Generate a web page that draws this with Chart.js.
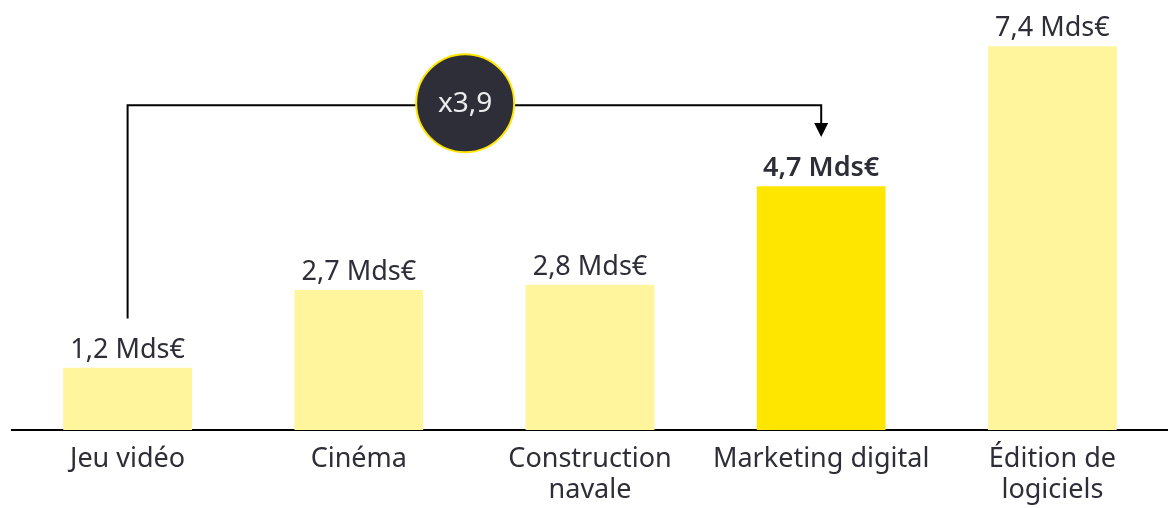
<!DOCTYPE html>
<html>
<head>
<meta charset="utf-8">
<script src="https://cdn.jsdelivr.net/npm/chart.js@4.4.1/dist/chart.umd.min.js"></script>
<style>
  html, body { margin: 0; padding: 0; background: #fff; }
  #wrap { width: 1168px; height: 508px; }
</style>
</head>
<body>
<div id="wrap"><canvas id="c"></canvas></div>
<script>
// données
const secteurs = [['Jeu vidéo'], ['Cinéma'], ['Construction', 'navale'], ['Marketing digital'], ['Édition de', 'logiciels']];
const valeurs = [1.2, 2.7, 2.8, 4.7, 7.4];
const etiquettes = ['1,2 Mds€', '2,7 Mds€', '2,8 Mds€', '4,7 Mds€', '7,4 Mds€'];
const miseEnAvant = 3; // Marketing digital
const multiplicateur = 'x3,9';

const JAUNE = '#ffe600';
const JAUNE_CLAIR = '#fff59c';
const TEXTE = '#2e2e38';
const POLICE = "'Noto Sans', sans-serif";

// étiquettes de valeur + flèche de comparaison
const annotations = {
    id: 'annotations',
    afterDatasetsDraw(chart) {
        const { ctx, scales: { x, y } } = chart;
        const barres = chart.getDatasetMeta(0).data;
        ctx.save();
        ctx.fillStyle = TEXTE;
        ctx.textAlign = 'center';
        ctx.textBaseline = 'alphabetic';
        barres.forEach((b, i) => {
            ctx.font = (i === miseEnAvant ? '600 ' : '400 ') + '27px ' + POLICE;
            ctx.fillText(etiquettes[i], b.x, b.y - 10);
        });

        // ligne de Jeu vidéo vers Marketing digital
        const x0 = x.getPixelForValue(0);
        const x1 = x.getPixelForValue(miseEnAvant);
        const yHaut = y.getPixelForValue(6.26);
        const yBas = y.getPixelForValue(2.15);
        const yPointe = y.getPixelForValue(5.65);
        ctx.strokeStyle = '#000';
        ctx.lineWidth = 2;
        ctx.beginPath();
        ctx.moveTo(x0, yBas);
        ctx.lineTo(x0, yHaut);
        ctx.lineTo(x1, yHaut);
        ctx.lineTo(x1, yPointe - 12);
        ctx.stroke();
        ctx.fillStyle = '#000';
        ctx.beginPath();
        ctx.moveTo(x1 - 7, yPointe - 14);
        ctx.lineTo(x1 + 7, yPointe - 14);
        ctx.lineTo(x1, yPointe);
        ctx.closePath();
        ctx.fill();

        // pastille x3,9
        const cx = x.getPixelForValue(1.46);
        const cy = yHaut - 2;
        ctx.beginPath();
        ctx.arc(cx, cy, 49, 0, Math.PI * 2);
        ctx.fillStyle = TEXTE;
        ctx.fill();
        ctx.lineWidth = 2;
        ctx.strokeStyle = JAUNE;
        ctx.stroke();
        ctx.fillStyle = '#ececef';
        ctx.font = '400 28px ' + POLICE;
        ctx.textBaseline = 'middle';
        ctx.fillText(multiplicateur, cx, cy + 1);
        ctx.restore();
    }
};

new Chart(document.getElementById('c'), {
    type: 'bar',
    data: {
        labels: secteurs,
        datasets: [{
            data: valeurs,
            backgroundColor: valeurs.map((v, i) => i === miseEnAvant ? JAUNE : JAUNE_CLAIR),
            categoryPercentage: 1,
            barPercentage: 0.557
        }]
    },
    options: {
        responsive: true,
        maintainAspectRatio: false,
        animation: false,
        layout: { padding: { left: 12, top: 15, right: 0, bottom: 0 } },
        plugins: {
            legend: { display: false },
            tooltip: { enabled: false }
        },
        scales: {
            x: {
                grid: { display: false, drawTicks: false },
                border: { display: true, color: '#000', width: 2 },
                ticks: {
                    color: TEXTE,
                    padding: 14,
                    maxRotation: 0,
                    autoSkip: false,
                    font: { family: POLICE, size: 27, lineHeight: 1.15 }
                },
                afterFit(axis) { axis.height = 78; }
            },
            y: {
                display: false,
                min: 0,
                max: 8
            }
        }
    },
    plugins: [annotations]
});
</script>
</body>
</html>
